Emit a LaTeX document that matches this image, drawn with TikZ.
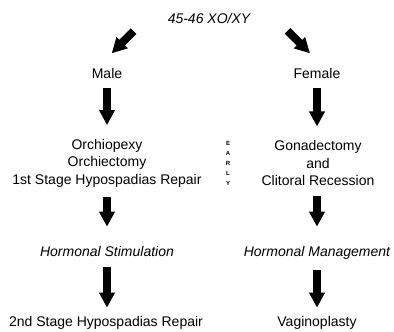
\documentclass[tikz,border=0pt]{standalone}
\usepackage{fontspec}
\setmainfont{Liberation Sans}
\usetikzlibrary{arrows.meta}
\begin{document}
\begin{tikzpicture}[x=1pt,y=-1pt,
  lbl/.style={inner sep=0pt,anchor=base,font=\fontsize{14}{17.5}\selectfont},
  ilbl/.style={lbl,font=\fontsize{14}{17.5}\selectfont\itshape},
  blk/.style={inner sep=0pt,align=center,font=\fontsize{14}{17.5}\selectfont},
  early/.style={inner sep=0pt,align=center,font=\fontsize{6}{10}\selectfont\bfseries},
  blkarrow/.style={line width=8pt,-{Triangle[width=15pt,length=15pt]}}]
\useasboundingbox (0,0) rectangle (394,332);
% nodes
\node[ilbl] (top) at (209,23.3) {45-46 XO/XY};
\node[lbl] (male) at (107,78) {Male};
\node[lbl] (female) at (317,78) {Female};
\node[blk] (orch) at (107,163.3) {Orchiopexy\\Orchiectomy\\1st Stage Hypospadias Repair};
\node[blk] (gonad) at (318,163.3) {Gonadectomy\\and\\Clitoral Recession};
\node[early] (early) at (228,163) {E\\A\\R\\L\\Y};
\node[ilbl] (hstim) at (107,256) {Hormonal Stimulation};
\node[ilbl] (hman) at (317,256) {Hormonal Management};
\node[lbl] (stage2) at (106,326.7) {2nd Stage Hypospadias Repair};
\node[lbl] (vagino) at (317,326.7) {Vaginoplasty};
% diagonal arrow ends
\coordinate (dl1) at (133.5,31.2);
\coordinate (dl2) at (111.7,53.3);
\coordinate (dr1) at (287.5,30.8);
\coordinate (dr2) at (310,53.3);
\draw[blkarrow] (dl1) -- (dl2);
\draw[blkarrow] (dr1) -- (dr2);
% vertical arrows
\draw[blkarrow] ([yshift=-10pt]male.south) -- ([yshift=14pt]male.south |- orch.north);
\draw[blkarrow] ([yshift=-10pt]female.south) -- ([yshift=14pt]female.south |- gonad.north);
\draw[blkarrow] ([yshift=-9.6pt]orch.south) -- ([yshift=19pt]orch.south |- hstim.north);
\draw[blkarrow] ([yshift=-9.6pt]female.south |- gonad.south) -- ([yshift=19pt]hman.north);
\draw[blkarrow] ([yshift=-11pt]hstim.south) -- ([yshift=8.7pt]hstim.south |- stage2.north);
\draw[blkarrow] ([yshift=-11pt]hman.south) -- ([yshift=8.7pt]vagino.north);
\end{tikzpicture}
\end{document}
